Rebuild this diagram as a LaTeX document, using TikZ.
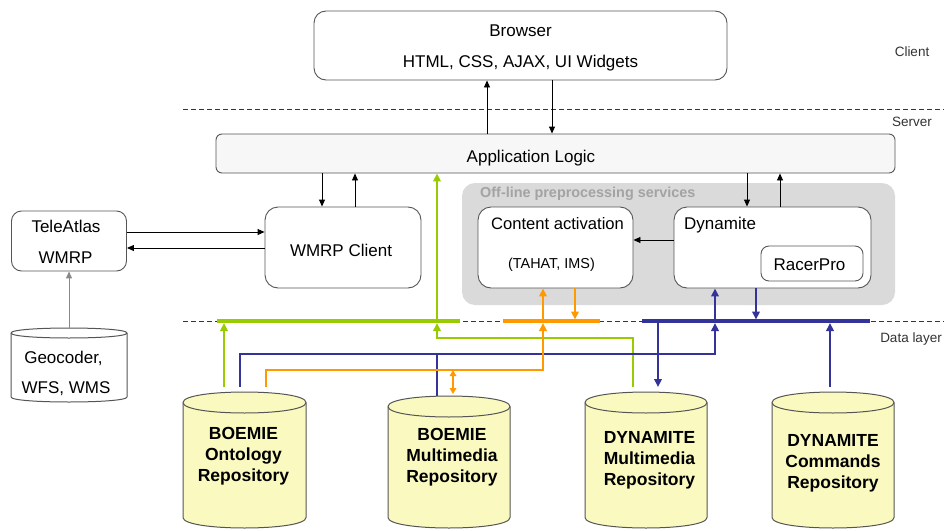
\documentclass[tikz,border=0pt]{standalone}
\usepackage{fontspec}
\setmainfont{Liberation Sans}
\usetikzlibrary{arrows.meta}
\definecolor{cgreen}{HTML}{99CC00}
\definecolor{corange}{HTML}{FF9900}
\definecolor{cblue}{HTML}{333399}
\definecolor{cyellow}{HTML}{FAFAC0}
\definecolor{cgrey}{HTML}{DADADA}
\definecolor{cedge}{HTML}{555555}
\definecolor{coff}{HTML}{A3A3A3}
\definecolor{cdash}{HTML}{333333}
\definecolor{cside}{HTML}{333333}
\definecolor{cappfill}{HTML}{F7F7F7}
\definecolor{cgeo}{HTML}{888888}
\newcommand\myfs[1]{\fontsize{#1}{#1}\selectfont}
% cx, T, B, rx, ry, fill
\newcommand\mycyl[6]{%
  \filldraw[cylsty,fill=#6] ({#1-#4},#2) -- ({#1-#4},#3) .. controls ({#1-#4},{#3+1.333*#5}) and ({#1+#4},{#3+1.333*#5}) .. ({#1+#4},#3) -- ({#1+#4},#2) .. controls ({#1+#4},{#2-1.333*#5}) and ({#1-#4},{#2-1.333*#5}) .. ({#1-#4},#2) -- cycle;
  \draw[cylsty] ({#1-#4},#2) .. controls ({#1-#4},{#2+1.333*#5}) and ({#1+#4},{#2+1.333*#5}) .. ({#1+#4},#2);
}
\begin{document}
\begin{tikzpicture}[x=1pt,y=-1pt,
  box/.style={draw=cedge,line width=0.9pt,fill=white,rounded corners=10pt,inner sep=0pt},
  greybox/.style={fill=cgrey,rounded corners=13pt,inner sep=0pt},
  lbl/.style={inner sep=0pt,anchor=base,font=\myfs{17}},
  side/.style={inner sep=0pt,anchor=base,font=\myfs{13.5},text=cside},
  cyltxt/.style={inner sep=0pt,anchor=north,align=center,font=\bfseries\fontsize{17.5}{21}\selectfont},
  ahead/.style={-{Triangle[length=7pt,width=6pt]}},
  chead/.style={-{Triangle[length=8pt,width=7.5pt]}},
  dhead/.style={{Triangle[length=6pt,width=6.5pt]}-{Triangle[length=6pt,width=6.5pt]}},
  arr/.style={ahead,line width=0.9pt,draw=black},
  gline/.style={draw=cgreen,line width=2.2pt},
  oline/.style={draw=corange,line width=2.2pt},
  bline/.style={draw=cblue,line width=2.2pt},
  bar/.style={line width=4.5pt},
  dline/.style={draw=cdash,line width=0.9pt,dash pattern=on 5pt off 3pt},
  cylsty/.style={draw=cedge,line width=1pt}
]
\useasboundingbox (0,0) rectangle (944,530);

% layer separators
\draw[dline] (183,109) -- (944,109);
\draw[dline] (183,321) -- (944,321);
\node[side] (client) at (912,56) {Client};
\node[side] (server) at (912,126.5) {Server};
\node[side] (datal) at (911,342) {Data layer};

% off-line services
\node[greybox,minimum width=433pt,minimum height=122pt] (off) at (678.5,244) {};
\node[inner sep=0pt,anchor=base west,text=coff,font=\bfseries\myfs{14.4}] (offl) at (480,197) {Off-line preprocessing services};

% boxes
\node[box,rounded corners=12pt,minimum width=413pt,minimum height=69pt] (browser) at (520.5,45.5) {};
\node[lbl] (browserT) at (520.5,36.5) {Browser};
\node[lbl] (browserS) at (520.5,67.5) {HTML, CSS, AJAX, UI Widgets};

\node[box,fill=cappfill,rounded corners=6pt,minimum width=679pt,minimum height=39pt] (app) at (555.5,153.5) {};
\node[lbl] (appT) at (531,162) {Application Logic};

\node[box,rounded corners=13pt,minimum width=155pt,minimum height=81pt] (ca) at (555.5,247.5) {};
\node[lbl,font=\myfs{16.6}] (caT) at (557.5,229) {Content activation};
\node[lbl,font=\myfs{14.4}] (caS) at (551.5,268) {(TAHAT, IMS)};

\node[box,rounded corners=13pt,minimum width=197pt,minimum height=81pt] (dyn) at (772.5,247.5) {};
\node[lbl,anchor=base west] (dynT) at (684,229) {Dynamite};
\node[box,rounded corners=8pt,minimum width=102pt,minimum height=35pt] (racer) at (812,263.5) {};
\node[lbl] (racerT) at (809.5,270) {RacerPro};

\node[box,minimum width=115pt,minimum height=60pt] (tele) at (69,241) {};
\node[lbl] (teleT) at (66,232) {TeleAtlas};
\node[lbl] (teleS) at (65.5,263) {WMRP};

\node[box,rounded corners=13pt,minimum width=156pt,minimum height=81pt] (wmrp) at (343,247.5) {};
\node[lbl] (wmrpT) at (341,256) {WMRP Client};

% cylinders
\mycyl{69}{333}{397}{58}{5}{white}
\coordinate (geo) at (69,328);
\node[lbl] (geoT) at (63.5,363) {Geocoder,};
\node[lbl] (geoS) at (66,393) {WFS, WMS};

\mycyl{244.5}{402.5}{517.5}{61.5}{10.5}{cyellow}
\node[cyltxt] (ont) at (243.5,426.7) {BOEMIE\\Ontology\\Repository};
\mycyl{449}{406.5}{517.5}{61}{10.5}{cyellow}
\node[cyltxt] (bmm) at (452,428.5) {BOEMIE\\Multimedia\\Repository};
\mycyl{646}{402.5}{517.5}{61}{10.5}{cyellow}
\node[cyltxt] (dmm) at (649.5,431) {DYNAMITE\\Multimedia\\Repository};
\mycyl{833}{402.5}{517.5}{61}{10.5}{cyellow}
\node[cyltxt] (dcr) at (833,434) {DYNAMITE\\Commands\\Repository};

% attach points on repositories
\coordinate (ontG) at (224,387);
\coordinate (ontB) at (240,387);
\coordinate (ontO) at (266,387);
\coordinate (bmmB) at (437,396);
\coordinate (bmmO) at (453,394);
\coordinate (dmmG) at (633,387);
\coordinate (dmmB) at (658,387);
\coordinate (dcrB) at (830,387);

% black connectors
\draw[arr] (app.north -| 487,0) -- (browser.south -| 487,0);
\draw[arr] (browser.south -| 552,0) -- (app.north -| 552,0);
\draw[arr] (app.south -| 322,0) -- (wmrp.north -| 322,0);
\draw[arr] (wmrp.north -| 355,0) -- (app.south -| 355,0);
\draw[arr] (app.south -| 747,0) -- (dyn.north -| 747,0);
\draw[arr] (dyn.north -| 780,0) -- (app.south -| 780,0);
\draw[arr] (dyn.west |- 0,240) -- (ca.east |- 0,240);
\draw[arr] (tele.east |- 0,232) -- (wmrp.west |- 0,232);
\draw[arr] (wmrp.west |- 0,248) -- (tele.east |- 0,248);
\draw[arr,draw=cgeo,line width=1pt] (geo) -- (tele.south -| geo);

% bars
\coordinate (gbarL) at (217,321);
\coordinate (gbarR) at (460,321);
\coordinate (obarL) at (503,321);
\coordinate (obarR) at (600,321);
\coordinate (bbarL) at (642,321);
\coordinate (bbarR) at (870,321);

% green
\draw[gline,chead] (ontG) -- (224,323);
\draw[gline,chead] (dmmG) -- (633,338) -- (437,338) -- (437,323);
\draw[gline,chead] (gbarL -| 437,0) -- (app.south -| 437,0);
% blue
\draw[bline] (bmmB) -- (437,354);
\draw[bline,chead] (ontB) -- (240,354) -- (715,354) -- (715,323);
\draw[bline,chead] (bbarL -| 715,0) -- (dyn.south -| 715,0);
\draw[bline,chead] (dyn.south -| 756,0) -- (756,319.5);
\draw[bline,chead] (bbarL -| 658,0) -- (dmmB);
\draw[bline,chead] (dcrB) -- (830,323);
% orange
\draw[oline,chead] (ontO) -- (266,370) -- (543,370) -- (543,323);
\draw[oline,chead] (obarL -| 543,0) -- (ca.south -| 543,0);
\draw[oline,chead] (ca.south -| 575,0) -- (575,319.5);
\draw[oline,dhead] (453,370) -- (bmmO);

\draw[bar,draw=cgreen] (gbarL) -- (gbarR);
\draw[bar,draw=corange] (obarL) -- (obarR);
\draw[bar,draw=cblue] (bbarL) -- (bbarR);
\end{tikzpicture}
\end{document}
